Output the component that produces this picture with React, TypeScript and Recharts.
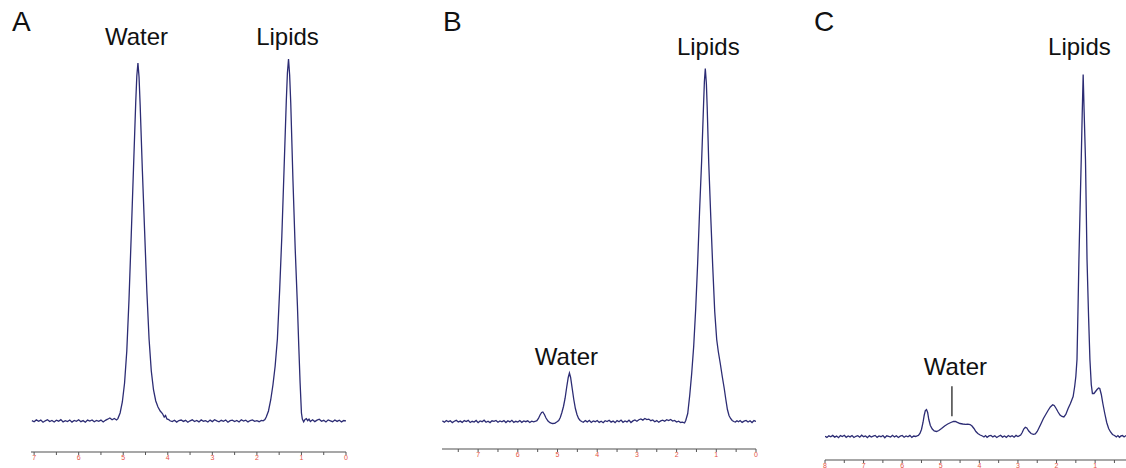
import React from 'react';
import { LineChart, Line, XAxis, YAxis, ReferenceDot } from 'recharts';

// [chemical shift (ppm), signal (a.u.)] for each spectrum, high ppm first
type Pt = [number, number];

const spectrumA: Pt[] = [
  [7.05, 0.4], [7.0, -0.8], [6.95, 1.1], [6.9, -0.3], [6.85, 0.9], [6.8, -1.2], [6.75, 0.2], [6.7, 1.3],
  [6.65, -0.6], [6.6, 0.5], [6.55, -1.0], [6.5, 0.8], [6.45, -0.2], [6.4, 1.4], [6.35, -0.9], [6.3, 0.3],
  [6.25, -0.5], [6.2, 1.0], [6.15, -1.1], [6.1, 0.6], [6.05, -0.3], [6.0, 1.2], [5.95, -0.7], [5.9, 0.4],
  [5.85, -1.2], [5.8, 0.9], [5.75, 0.0], [5.7, 1.1], [5.65, -0.8], [5.6, 0.5], [5.55, -0.4], [5.5, 0.9],
  [5.45, -1.0], [5.4, 0.7], [5.35, 1.8], [5.3, 3.0], [5.25, 1.2], [5.2, 2.5], [5.15, 1.0], [5.12, 2.4],
  [5.07, 8], [5.02, 19], [4.97, 38], [4.92, 70], [4.87, 122], [4.82, 186], [4.77, 252], [4.72, 318],
  [4.695, 345], [4.67, 358], [4.645, 344], [4.62, 316], [4.57, 250], [4.52, 190], [4.47, 130], [4.42, 82],
  [4.37, 50], [4.32, 31], [4.27, 20], [4.22, 14], [4.17, 10], [4.12, 7.5], [4.08, 4], [4.05, 5.5],
  [4.02, 2], [3.98, 1.5], [3.95, 0.2],
  [3.9, -0.6], [3.85, 0.8], [3.8, -1.1], [3.75, 0.5], [3.7, 1.0], [3.65, -0.4], [3.6, 0.7], [3.55, -1.3],
  [3.5, 0.2], [3.45, 1.2], [3.4, -0.5], [3.35, 0.6], [3.3, -0.9], [3.25, 1.1], [3.2, -0.2], [3.15, 0.4],
  [3.1, -1.0], [3.05, 0.9], [3.0, -0.6], [2.95, 1.3], [2.9, 0.1], [2.85, -0.8], [2.8, 0.7], [2.75, -0.3],
  [2.7, 1.0], [2.65, -1.2], [2.6, 0.4], [2.55, 0.9], [2.5, -0.5], [2.45, 0.6], [2.4, -1.0], [2.35, 1.2],
  [2.3, -0.1], [2.25, 0.8], [2.2, -0.9], [2.15, 0.5], [2.1, 1.1], [2.05, -0.4], [2.0, 0.3], [1.95, -0.7],
  [1.9, 0.6], [1.86, 0.2], [1.82, 1.5], [1.79, 4], [1.74, 10], [1.69, 21], [1.64, 36], [1.59, 55],
  [1.54, 82], [1.49, 130], [1.44, 185], [1.39, 252], [1.34, 320], [1.315, 348], [1.29, 362], [1.265, 346],
  [1.24, 318], [1.19, 240], [1.14, 172], [1.09, 115], [1.06, 75], [1.03, 38], [1.0, 8], [0.98, 2],
  [0.95, -0.8], [0.92, 1.6], [0.89, 2.4], [0.86, 0.3], [0.83, 1.9], [0.8, -0.5], [0.75, 1.2], [0.7, -0.6],
  [0.65, 0.9], [0.6, 1.8], [0.55, -0.3], [0.5, 0.7], [0.45, -1.0], [0.4, 1.1], [0.35, 0.2], [0.3, -0.7],
  [0.25, 1.0], [0.2, -0.4], [0.15, 0.8], [0.1, -0.9], [0.05, 0.5], [0.0, 0.2],
];

const spectrumB: Pt[] = [
  [7.9, 0.6], [7.85, -0.7], [7.8, 1.0], [7.75, -0.2], [7.7, 0.8], [7.65, -1.1], [7.6, 0.3], [7.55, 1.2],
  [7.5, -0.5], [7.45, 0.4], [7.4, -0.9], [7.35, 0.9], [7.3, -0.1], [7.25, 1.1], [7.2, -1.0], [7.15, 0.2],
  [7.1, -0.6], [7.05, 1.0], [7.0, -1.2], [6.95, 0.5], [6.9, -0.2], [6.85, 1.3], [6.8, -0.8], [6.75, 0.3],
  [6.7, -1.1], [6.65, 0.7], [6.6, 0.1], [6.55, 1.0], [6.5, -0.7], [6.45, 0.6], [6.4, -0.3], [6.35, 0.9],
  [6.3, -1.0], [6.25, 0.8], [6.2, -0.4], [6.15, 1.2], [6.1, -0.9], [6.05, 0.2], [6.0, -0.5], [5.95, 1.0],
  [5.9, -0.8], [5.85, 0.6], [5.8, -0.2], [5.75, 0.7], [5.7, -1.0], [5.65, 0.4], [5.6, -0.3], [5.55, 0.3],
  [5.52, 0.8], [5.48, 3], [5.44, 6.5], [5.4, 9], [5.37, 9.5], [5.33, 7], [5.29, 3.5], [5.24, 0.5],
  [5.19, -1.2], [5.13, -2], [5.07, -1.8], [5.02, -0.5], [4.97, 1], [4.93, 4], [4.89, 9], [4.85, 15],
  [4.81, 23], [4.77, 34], [4.73, 44], [4.7, 48.5], [4.67, 44], [4.63, 33], [4.59, 22], [4.55, 13],
  [4.51, 7], [4.47, 3], [4.43, 1], [4.39, 0],
  [4.35, -0.8], [4.3, 0.9], [4.25, -0.4], [4.2, 1.1], [4.15, -1.0], [4.1, 0.5], [4.05, -0.2], [4.0, 1.0],
  [3.95, -0.9], [3.9, 0.3], [3.85, -1.2], [3.8, 0.8], [3.75, 0.0], [3.7, 1.2], [3.65, -0.6], [3.6, 0.4],
  [3.55, -1.1], [3.5, 0.9], [3.45, -0.3], [3.4, 1.4], [3.35, -0.8], [3.3, 0.5], [3.25, -0.4], [3.2, 1.3],
  [3.15, -1.0], [3.1, 0.6], [3.05, 1.5], [3.0, 0.2], [2.95, 1.8], [2.9, 2.6], [2.85, 1.4], [2.8, 3.0],
  [2.75, 1.9], [2.7, 2.4], [2.65, 0.8], [2.6, 1.5], [2.55, -0.2], [2.5, 0.9], [2.45, -0.7], [2.4, 0.6],
  [2.35, 1.4], [2.3, 0.3], [2.25, 1.8], [2.2, 0.9], [2.15, 2.0], [2.1, 0.4], [2.05, 1.1], [2.0, -0.5],
  [1.95, 0.3], [1.9, -1.0], [1.85, -0.6], [1.8, -1.5],
  [1.77, 1], [1.72, 8], [1.67, 26], [1.62, 48], [1.57, 75], [1.52, 112], [1.47, 158], [1.42, 212],
  [1.37, 260], [1.32, 318], [1.3, 340], [1.277, 353], [1.25, 338], [1.23, 315], [1.19, 258], [1.14, 205],
  [1.09, 155], [1.04, 110], [0.99, 82], [0.95, 70], [0.9, 58], [0.85, 45], [0.8, 33], [0.76, 22],
  [0.72, 12], [0.68, 6], [0.64, 3], [0.6, 1], [0.56, 0],
  [0.52, -0.6], [0.48, 0.8], [0.44, -0.3], [0.4, 1.0], [0.35, -0.9], [0.3, 0.4], [0.25, 1.1], [0.2, -0.5],
  [0.15, 0.7], [0.1, -1.0], [0.05, 0.9], [0.0, 0.1],
];

const spectrumC: Pt[] = [
  [8.0, 0.3], [7.95, -0.9], [7.9, 0.7], [7.85, -0.3], [7.8, 1.1], [7.75, -0.6], [7.7, 0.4], [7.65, -1.2],
  [7.6, 0.9], [7.55, 0.0], [7.5, 1.2], [7.45, -0.8], [7.4, 0.5], [7.35, -0.4], [7.3, 1.0], [7.25, -1.0],
  [7.2, 0.2], [7.15, 0.8], [7.1, -0.7], [7.05, 1.3], [7.0, -0.2], [6.95, 0.6], [6.9, -1.1], [6.85, 0.9],
  [6.8, -0.5], [6.75, 0.3], [6.7, 1.1], [6.65, -0.9], [6.6, 0.5], [6.55, -0.2], [6.5, 1.0], [6.45, -1.2],
  [6.4, 0.7], [6.35, 0.1], [6.3, -0.6], [6.25, 1.2], [6.2, -0.4], [6.15, 0.8], [6.1, -1.0], [6.05, 0.4],
  [6.0, 1.0], [5.95, -0.7], [5.9, 0.6], [5.85, -0.3], [5.8, 1.1], [5.75, -0.9], [5.7, 0.5], [5.65, 0.0],
  [5.6, 0.8],
  [5.58, 1], [5.54, 3], [5.5, 7], [5.46, 14], [5.43, 21], [5.4, 26], [5.37, 27], [5.34, 24],
  [5.31, 17], [5.27, 11], [5.22, 7.5], [5.17, 5.5], [5.11, 5], [5.05, 6], [4.98, 8], [4.9, 10.5],
  [4.82, 12.5], [4.74, 14], [4.67, 15], [4.62, 15.2], [4.57, 14.2], [4.5, 13], [4.43, 12.5], [4.36, 12.2],
  [4.3, 12.3], [4.24, 12], [4.19, 10.5], [4.14, 8], [4.09, 5], [4.04, 3], [3.98, 1.5], [3.92, 0.5],
  [3.88, -0.5], [3.84, 0.9], [3.8, -0.8], [3.75, 0.6], [3.7, 1.1], [3.65, -0.4], [3.6, 0.7], [3.55, -1.0],
  [3.5, 0.3], [3.45, 1.2], [3.4, -0.6], [3.35, 0.5], [3.3, -0.9], [3.25, 1.0], [3.2, -0.2], [3.15, 0.8],
  [3.1, -0.7], [3.05, 1.1], [3.0, 0.0], [2.97, 0.6],
  [2.93, 1.5], [2.89, 4], [2.85, 7.5], [2.81, 9.2], [2.77, 8.5], [2.72, 5.5], [2.66, 3], [2.6, 2.2],
  [2.55, 2.5], [2.5, 5], [2.45, 9], [2.4, 13], [2.34, 18], [2.28, 22], [2.22, 26], [2.16, 29.5],
  [2.1, 31.7], [2.06, 31], [2.01, 28], [1.96, 24.5], [1.91, 21.5], [1.86, 20], [1.81, 19.5], [1.76, 22],
  [1.7, 28], [1.64, 33], [1.6, 37], [1.57, 40], [1.53, 50], [1.5, 60], [1.47, 77], [1.445, 125],
  [1.42, 177], [1.39, 228], [1.36, 277], [1.335, 322], [1.31, 362], [1.285, 325], [1.25, 277], [1.21, 177],
  [1.17, 120], [1.135, 77], [1.1, 52], [1.07, 43], [1.03, 43], [0.99, 45], [0.95, 47], [0.91, 48.5],
  [0.88, 48], [0.84, 42], [0.8, 33], [0.75, 23], [0.7, 14], [0.65, 8], [0.6, 4.5], [0.55, 2],
  [0.5, 1],
  [0.45, -0.4], [0.41, 0.9], [0.37, -0.8], [0.33, 0.6], [0.29, 1.0], [0.25, -0.5], [0.21, 0.7], [0.2, 0.2],
];

// axis ticks every 0.5 ppm, only whole numbers are labelled
const ticksA = [0, 0.5, 1, 1.5, 2, 2.5, 3, 3.5, 4, 4.5, 5, 5.5, 6, 6.5, 7];
const ticksB = [0, 0.5, 1, 1.5, 2, 2.5, 3, 3.5, 4, 4.5, 5, 5.5, 6, 6.5, 7, 7.5];
const ticksC = [0.5, 1, 1.5, 2, 2.5, 3, 3.5, 4, 4.5, 5, 5.5, 6, 6.5, 7, 7.5, 8];

type PeakLabel = { text: string; ppm: number; signal: number; dx: number; lift: number; leader?: [number, number] };

const peaksA: PeakLabel[] = [
  { text: 'Water', ppm: 4.67, signal: 358, dx: -1.4, lift: 18 },
  { text: 'Lipids', ppm: 1.29, signal: 362, dx: -1, lift: 14 },
];
const peaksB: PeakLabel[] = [
  { text: 'Water', ppm: 4.7, signal: 48.5, dx: -3, lift: 8 },
  { text: 'Lipids', ppm: 1.277, signal: 353, dx: 3, lift: 13.5 },
];
const peaksC: PeakLabel[] = [
  { text: 'Water', ppm: 4.62, signal: 15.2, dx: 0, lift: 46, leader: [35, 5] },
  { text: 'Lipids', ppm: 1.31, signal: 362, dx: -3.7, lift: 19.5 },
];

const FONT = '"Liberation Sans", Arial, Helvetica, sans-serif';
const LINE = '#2c2c74';
const PAD = 12;

const PpmTick = (props: any) => {
  const { x, y, payload } = props;
  const v = payload?.value;
  if (!Number.isInteger(v)) return <g />;
  return (
    <text x={x} y={y} dy={5} textAnchor="middle" fontSize={7} fontFamily={FONT} fill="#e5533f">
      {v}
    </text>
  );
};

const peakShape = (p: PeakLabel) => (props: any) => {
  const { cx, cy } = props;
  return (
    <g>
      {p.leader && (
        <line
          x1={cx - 3.5}
          x2={cx - 3.5}
          y1={cy - p.leader[0]}
          y2={cy - p.leader[1]}
          stroke="#111"
          strokeWidth={1.2}
        />
      )}
      <text x={cx + p.dx} y={cy - p.lift} textAnchor="middle" fontSize={24} fontFamily={FONT} fill="#111">
        {p.text}
      </text>
    </g>
  );
};

type Panel = {
  letter: string;
  letterX: number;
  data: Pt[];
  peaks: PeakLabel[];
  ticks: number[];
  domain: [number, number];
  yDomain: [number, number];
  left: number;
  width: number;
  axisY: number;
};

const panels: Panel[] = [
  { letter: 'A', letterX: 12, data: spectrumA, peaks: peaksA, ticks: ticksA, domain: [0, 7.07], yDomain: [-31, 421], left: 31, width: 315, axisY: 452 },
  { letter: 'B', letterX: 443, data: spectrumB, peaks: peaksB, ticks: ticksB, domain: [0, 7.91], yDomain: [-27.5, 421.5], left: 442, width: 314, axisY: 449 },
  { letter: 'C', letterX: 814, data: spectrumC, peaks: peaksC, ticks: ticksC, domain: [0.2, 8.0], yDomain: [-23.5, 436.5], left: 825, width: 301, axisY: 460 },
];

const SpectrumPanel = ({ p }: { p: Panel }) => {
  const rows = p.data.map(([ppm, signal]) => ({ ppm, signal }));
  return (
    <div style={{ position: 'absolute', left: p.left - PAD, top: 0 }}>
      <LineChart
        width={p.width + 2 * PAD}
        height={p.axisY + 16}
        data={rows}
        margin={{ top: 0, right: PAD, bottom: 0, left: PAD }}
      >
        <XAxis
          type="number"
          dataKey="ppm"
          domain={p.domain}
          allowDataOverflow
          reversed
          ticks={p.ticks}
          interval={0}
          height={16}
          tickSize={3}
          tickMargin={0}
          tick={<PpmTick />}
          tickLine={{ stroke: '#555', strokeWidth: 1 }}
          axisLine={{ stroke: '#8a8a8a', strokeWidth: 1.3 }}
        />
        <YAxis hide width={0} domain={p.yDomain} allowDataOverflow />
        <Line
          type="linear"
          dataKey="signal"
          stroke={LINE}
          strokeWidth={1.3}
          dot={false}
          activeDot={false}
          isAnimationActive={false}
        />
        {p.peaks.map((pk) => (
          <ReferenceDot
            key={pk.text}
            x={pk.ppm}
            y={pk.signal}
            r={0}
            ifOverflow="visible"
            shape={peakShape(pk)}
          />
        ))}
      </LineChart>
    </div>
  );
};

export default function App() {
  return (
    <div
      style={{
        position: 'fixed',
        left: 0,
        top: 0,
        width: 1126,
        height: 468,
        overflow: 'hidden',
        background: '#fff',
      }}
    >
      {panels.map((p) => (
        <SpectrumPanel key={p.letter} p={p} />
      ))}
      <svg width={1126} height={468} style={{ position: 'absolute', left: 0, top: 0, pointerEvents: 'none' }}>
        {panels.map((p) => (
          <text key={p.letter} x={p.letterX} y={31} fontSize={28} fontFamily={FONT} fill="#111">
            {p.letter}
          </text>
        ))}
      </svg>
    </div>
  );
}
